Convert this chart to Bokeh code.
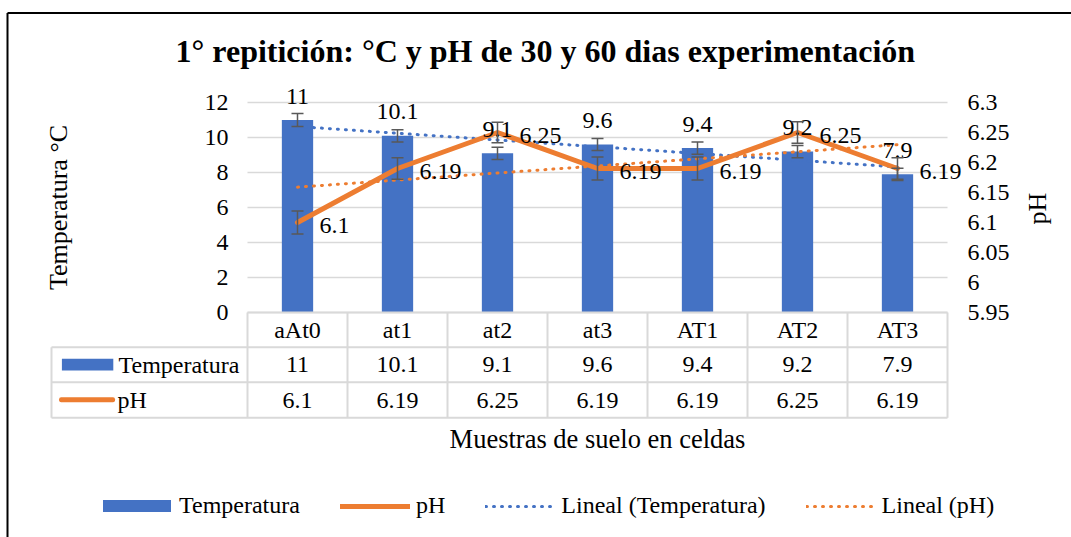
import numpy as np
from bokeh.plotting import figure
from bokeh.models import (Range1d, LinearAxis, FixedTicker, Whisker, TeeHead, ColumnDataSource,
                          LabelSet, Label, BoxAnnotation, Legend, LegendItem)
from bokeh.embed import file_html
from bokeh.resources import INLINE

# ---------------- data ----------------
categories = ["aAt0", "at1", "at2", "at3", "AT1", "AT2", "AT3"]
temperatura = [11, 10.1, 9.1, 9.6, 9.4, 9.2, 7.9]
ph = [6.1, 6.19, 6.25, 6.19, 6.19, 6.25, 6.19]
temp_err = [0.37, 0.35, 0.35, 0.34, 0.35, 0.35, 0.35]
ph_err = [0.019, 0.018, 0.017, 0.019, 0.019, 0.018, 0.018]
temp_ticks = [0, 2, 4, 6, 8, 10, 12]
ph_ticks = [5.95, 6.0, 6.05, 6.1, 6.15, 6.2, 6.25, 6.3]
ph_tick_labels = ["5.95", "6", "6.05", "6.1", "6.15", "6.2", "6.25", "6.3"]

title_text = "1° repitición: °C y pH de 30 y 60 dias experimentación"
y_title = "Temperatura °C"
y2_title = "pH"
x_title = "Muestras de suelo en celdas"
name_temp = "Temperatura"
name_ph = "pH"
name_trend_temp = "Lineal (Temperatura)"
name_trend_ph = "Lineal (pH)"

# ---------------- style ----------------
FONT = "Liberation Serif"
BLUE = "#4472C4"
ORANGE = "#ED7D31"
GRID = "#D9D9D9"
ERR = "#595959"
FS = "24px"
FS_AX = "26px"

W, H = 1071, 537
# chart area (canvas px): x 247..947, y 102..312 ; the frame is the whole canvas
FL, FR, FT, FB = 247, 947, 102, 312

xs = list(range(1, len(categories) + 1))
x_lo, x_hi = 0.5, len(categories) + 0.5
t_lo, t_hi = temp_ticks[0], temp_ticks[-1]
p_lo, p_hi = ph_ticks[0], ph_ticks[-1]
kx = (x_hi - x_lo) / (FR - FL)
kt = (t_hi - t_lo) / (FB - FT)
kp = (p_hi - p_lo) / (FB - FT)


def px_x(cx):
    return x_lo + (cx - FL) * kx


def px_y(cy):
    return t_lo + (FB - cy) * kt


p = figure(width=W, height=H, output_backend="svg", toolbar_location=None,
           x_range=Range1d(px_x(0), px_x(W)), y_range=Range1d(px_y(H), px_y(0)),
           min_border=0, outline_line_color=None, background_fill_color="white",
           border_fill_color="white")
p.extra_y_ranges = {"ph": Range1d(p_lo - (H - FB) * kp, p_lo + FB * kp)}
p.grid.visible = False


def text(cx, cy, s, size=FS, align="center", angle=0.0, style="normal"):
    p.add_layout(Label(x=px_x(cx), y=px_y(cy), text=s, text_font=FONT,
                       text_font_size=size, text_font_style=style, text_color="black",
                       text_align=align, text_baseline="middle", angle=angle))


# title and axis titles
text(175, 50, title_text, size="32px", align="left", style="bold")
text(57.5, 207, y_title, size=FS_AX, angle=np.pi / 2)
text(1037, 208, y2_title, size=FS_AX, angle=np.pi / 2)
text(597, 438, x_title, size="26.5px")

# horizontal gridlines limited to the chart area
p.segment(x0=[x_lo] * len(temp_ticks), x1=[x_hi] * len(temp_ticks),
          y0=temp_ticks, y1=temp_ticks, line_color=GRID, line_width=1.3)

# left axis
ya = p.yaxis[0]
ya.fixed_location = x_lo
ya.ticker = FixedTicker(ticks=temp_ticks)
ya.axis_line_color = None
ya.major_tick_line_color = None
ya.minor_tick_line_color = None
ya.major_label_standoff = 13
ya.major_label_text_font = FONT
ya.major_label_text_font_size = FS
ya.major_label_text_color = "black"

# right axis
ax2 = LinearAxis(y_range_name="ph", fixed_location=x_hi,
                 ticker=FixedTicker(ticks=ph_ticks),
                 major_label_overrides=dict(zip(ph_ticks, ph_tick_labels)))
ax2.axis_line_color = None
ax2.major_tick_line_color = None
ax2.minor_tick_line_color = None
ax2.major_label_standoff = 14
ax2.major_label_text_font = FONT
ax2.major_label_text_font_size = FS
ax2.major_label_text_color = "black"
p.add_layout(ax2, "right")

# bottom axis (category row of the data table)
xa = p.xaxis[0]
xa.fixed_location = t_lo
xa.ticker = FixedTicker(ticks=xs)
xa.major_label_overrides = {x: c for x, c in zip(xs, categories)}
xa.axis_line_color = None
xa.major_tick_line_color = None
xa.minor_tick_line_color = None
xa.major_label_standoff = -2
xa.major_label_text_font = FONT
xa.major_label_text_font_size = FS
xa.major_label_text_color = "black"

# ---------------- data source ----------------
src = ColumnDataSource(dict(
    x=xs, temp=temperatura, ph=ph,
    temp_hi=[v + e for v, e in zip(temperatura, temp_err)],
    temp_lo=[v - e for v, e in zip(temperatura, temp_err)],
    ph_hi=[v + e for v, e in zip(ph, ph_err)],
    ph_lo=[v - e for v, e in zip(ph, ph_err)],
    temp_txt=[f"{v:g}" for v in temperatura],
    ph_txt=[f"{v:g}" for v in ph],
))

bars = p.vbar(x="x", top="temp", bottom=0, width=0.313, fill_color=BLUE,
              line_color=None, source=src)

# trend lines (linear fit, like Excel "Lineal")
ct = np.polyfit(xs, temperatura, 1)
cp = np.polyfit(xs, ph, 1)
tr_x = [xs[0], xs[-1]]
tr_t = p.line(tr_x, list(np.polyval(ct, tr_x)), line_color=BLUE, line_width=3,
              line_dash="1 7", line_cap="round")
tr_p = p.line(tr_x, list(np.polyval(cp, tr_x)), line_color=ORANGE, line_width=3,
              line_dash="1 7", line_cap="round", y_range_name="ph")

ph_line = p.line(x="x", y="ph", line_color=ORANGE, line_width=5, line_join="round",
                 line_cap="round", y_range_name="ph", source=src)

# error bars
for up, lo, rn in (("temp_hi", "temp_lo", "default"), ("ph_hi", "ph_lo", "ph")):
    w = Whisker(base="x", upper=up, lower=lo, source=src, y_range_name=rn,
                line_color=ERR, line_width=1.5, level="overlay",
                upper_head=TeeHead(size=12, line_color=ERR, line_width=1.5),
                lower_head=TeeHead(size=12, line_color=ERR, line_width=1.5))
    p.add_layout(w)

# data labels
p.add_layout(LabelSet(x="x", y="temp", text="temp_txt", source=src, y_offset=24,
                      text_align="center", text_baseline="middle", text_font=FONT,
                      text_font_size=FS, text_color="black"))
p.add_layout(LabelSet(x="x", y="ph", text="ph_txt", source=src, y_range_name="ph",
                      x_offset=22, y_offset=-3, text_align="left",
                      text_baseline="middle", text_font=FONT, text_font_size=FS,
                      text_color="black"))

# ---------------- data table below the chart ----------------
ROWS = [312, 346.7, 381.7, 417.3]
TL = 51
hx0 = [px_x(FL)] + [px_x(TL)] * 3
hx1 = [x_hi] * 4
hy = [px_y(r) for r in ROWS]
vx = [px_x(TL)] + [x - 0.5 for x in xs] + [x_hi]
vy0 = [px_y(ROWS[1])] + [px_y(ROWS[0])] * (len(xs) + 1)
vy1 = [px_y(ROWS[3])] * (len(xs) + 2)
p.segment(x0=hx0, x1=hx1, y0=hy, y1=hy, line_color=GRID, line_width=2)
p.segment(x0=vx, x1=vx, y0=vy0, y1=vy1, line_color=GRID, line_width=2)

row_t = (ROWS[1] + ROWS[2]) / 2
row_p = (ROWS[2] + ROWS[3]) / 2
for x, tt, pt in zip(xs, src.data["temp_txt"], src.data["ph_txt"]):
    cx = FL + (x - x_lo) / kx
    text(cx, row_t, tt)
    text(cx, row_p, pt)

# row keys
p.add_layout(BoxAnnotation(left=px_x(61.4), right=px_x(112.8), top=px_y(358.3),
                           bottom=px_y(370), fill_color=BLUE, fill_alpha=1,
                           line_color=None, level="overlay"))
p.add_layout(BoxAnnotation(left=px_x(58.6), right=px_x(114.5), top=px_y(396.8),
                           bottom=px_y(401.8), fill_color=ORANGE, fill_alpha=1,
                           line_color=None, border_radius=2, level="overlay"))
text(118, row_t, name_temp, align="left")
text(117, row_p, name_ph, align="left")

# outer chart border (continues past the right and bottom edges)
p.segment(x0=[px_x(7), px_x(7)], x1=[px_x(W + 20), px_x(7)],
          y0=[px_y(12.5), px_y(12.5)], y1=[px_y(12.5), px_y(H + 20)],
          line_color="black", line_width=2)

# ---------------- legend ----------------
leg_common = dict(orientation="horizontal", padding=0, margin=0,
                  border_line_alpha=0, background_fill_alpha=0,
                  label_text_font=FONT, label_text_font_size=FS,
                  label_text_color="black")
legend1 = Legend(items=[LegendItem(label=name_temp, renderers=[bars])],
                 location=(94, H - 519), glyph_width=85, glyph_height=15,
                 label_standoff=0, **leg_common)
legend2 = Legend(items=[
    LegendItem(label=name_ph, renderers=[ph_line]),
    LegendItem(label=name_trend_temp, renderers=[tr_t]),
    LegendItem(label=name_trend_ph, renderers=[tr_p]),
], location=(340, H - 519), glyph_width=70, glyph_height=12, label_standoff=6,
    spacing=40, **leg_common)
p.add_layout(legend1)
p.add_layout(legend2)

open("out.html", "w").write(file_html(p, INLINE))
